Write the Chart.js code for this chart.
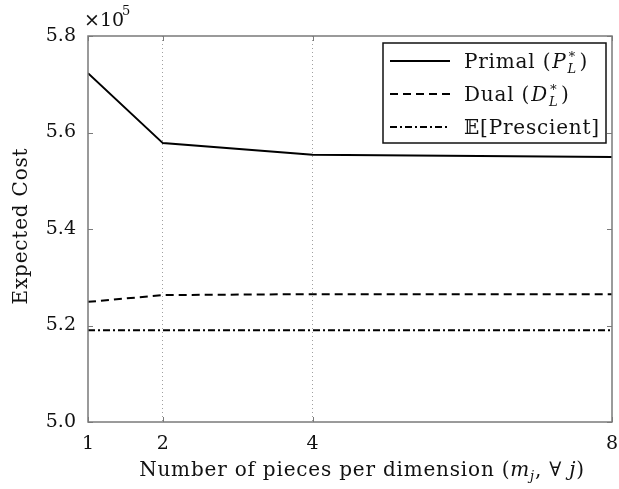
<!DOCTYPE html>
<html>
<head>
<meta charset="utf-8">
<script src="https://cdn.jsdelivr.net/npm/chart.js@4.4.1/dist/chart.umd.min.js"></script>
<style>
  html, body { margin: 0; padding: 0; background: #fff; }
  #wrap { width: 619px; height: 489px; }
</style>
</head>
<body>
<div id="wrap"><canvas id="costChart" width="619" height="489"></canvas></div>
<script>
// data (expected cost, x10^5 shown on axis)
const pieces = [1, 2, 4, 8];
const primal = [572300, 557800, 555400, 554900];
const dual = [524900, 526300, 526500, 526500];
const prescient = [519000, 519000, 519000, 519000];
const yTicks = [500000, 520000, 540000, 560000, 580000];

const FONT = '"DejaVu Serif", "Liberation Serif", serif';

// frame, inner ticks, legend box, axis titles
const decorations = {
  id: 'decorations',
  afterDraw(chart) {
    const c = chart.ctx;
    const a = chart.chartArea;
    const x = chart.scales.x, y = chart.scales.y;
    c.save();
    c.strokeStyle = '#7a7a7a';
    c.lineWidth = 1.5;
    c.strokeRect(a.left, a.top, a.right - a.left, a.bottom - a.top);
    // small inward ticks
    c.lineWidth = 1;
    yTicks.forEach(v => {
      const py = Math.round(y.getPixelForValue(v)) + 0.5;
      c.beginPath();
      c.moveTo(a.left, py); c.lineTo(a.left + 5, py);
      c.moveTo(a.right, py); c.lineTo(a.right - 5, py);
      c.stroke();
    });
    pieces.forEach(v => {
      const px = Math.round(x.getPixelForValue(v)) + 0.5;
      c.beginPath();
      c.moveTo(px, a.bottom); c.lineTo(px, a.bottom - 5);
      c.moveTo(px, a.top); c.lineTo(px, a.top + 5);
      c.stroke();
    });

    c.fillStyle = '#111';
    c.textBaseline = 'alphabetic';
    // x10^5
    c.font = '19px ' + FONT;
    c.textAlign = 'left';
    c.fillText('×10', 84, 26);
    c.font = '13px ' + FONT;
    c.fillText('5', 122, 15);

    c.letterSpacing = '0.8px';
    // y title
    c.save();
    c.translate(27, 226);
    c.rotate(-Math.PI / 2);
    c.font = '20px ' + FONT;
    c.textAlign = 'center';
    c.fillText('Expected Cost', 0, 0);
    c.restore();

    // x title with math bits
    const parts = [
      ['Number of pieces per dimension (', '20px ' + FONT, 0],
      ['m', 'italic 20px ' + FONT, 0],
      ['j', 'italic 13px ' + FONT, 4],
      [', ∀ ', '20px ' + FONT, 0],
      ['j', 'italic 20px ' + FONT, 0],
      [')', '20px ' + FONT, 0]
    ];
    let w = 0;
    parts.forEach(p => { c.font = p[1]; w += c.measureText(p[0]).width; });
    let tx = 362 - w / 2;
    parts.forEach(p => {
      c.font = p[1];
      c.fillText(p[0], tx, 476 + p[2]);
      tx += c.measureText(p[0]).width;
    });

    // legend
    c.fillStyle = '#fff';
    c.fillRect(383, 43, 223, 100);
    c.strokeStyle = '#111';
    c.lineWidth = 1.5;
    c.strokeRect(383, 43, 223, 100);
    const rows = [
      { dash: [], main: 'Primal (', sym: 'P' },
      { dash: [8, 5], main: 'Dual (', sym: 'D' },
      { dash: [7, 3, 2, 3], main: '𝔼[Prescient]', sym: null }
    ];
    rows.forEach((r, i) => {
      const cy = 61 + i * 33;
      c.strokeStyle = '#000';
      c.lineWidth = 2;
      c.setLineDash(r.dash);
      c.beginPath();
      c.moveTo(390, cy); c.lineTo(450, cy);
      c.stroke();
      c.setLineDash([]);
      c.fillStyle = '#111';
      let lx = 464;
      const base = cy + 7;
      c.font = '20px ' + FONT;
      c.fillText(r.main, lx, base);
      lx += c.measureText(r.main).width + 1;
      if (r.sym) {
        c.font = 'italic 20px ' + FONT;
        c.fillText(r.sym, lx, base);
        lx += c.measureText(r.sym).width + 1;
        c.font = '13px ' + FONT;
        c.fillText('∗', lx, base - 10);
        c.font = 'italic 13px ' + FONT;
        c.fillText('L', lx, base + 5);
        lx += 12;
        c.font = '20px ' + FONT;
        c.fillText(')', lx, base);
      }
    });
    c.restore();
  }
};

function series(label, values, dash) {
  return {
    label: label,
    data: pieces.map((p, i) => ({ x: p, y: values[i] })),
    borderColor: '#000',
    borderWidth: 2,
    borderDash: dash,
    pointRadius: 0,
    fill: false,
    tension: 0
  };
}

const ctx = document.getElementById('costChart');
const costChart = new Chart(ctx, {
  type: 'line',
  data: {
    datasets: [
      series('Primal', primal, []),
      series('Dual', dual, [8, 5]),
      series('E[Prescient]', prescient, [7, 3, 2, 3])
    ]
  },
  options: {
    responsive: false,
    animation: false,
    layout: { padding: { top: 36, right: 7, left: 0, bottom: 0 } },
    plugins: { legend: { display: false }, tooltip: { enabled: false } },
    scales: {
      x: {
        type: 'linear',
        min: 1,
        max: 8,
        afterBuildTicks: s => { s.ticks = pieces.map(v => ({ value: v })); },
        afterFit: s => { s.height = 67; s.paddingRight = 0; s.paddingLeft = 0; },
        border: { display: false, dash: [1, 3] },
        grid: {
          drawTicks: false,
          color: c => (c.tick && (c.tick.value === 2 || c.tick.value === 4)) ? '#a0a0a0' : 'rgba(0,0,0,0)',
          lineWidth: 1
        },
        ticks: {
          color: '#111',
          padding: 11,
          maxRotation: 0,
          font: { family: FONT, size: 19 },
          callback: v => String(v)
        }
      },
      y: {
        min: 500000,
        max: 580000,
        afterBuildTicks: s => { s.ticks = yTicks.map(v => ({ value: v })); },
        afterFit: s => { s.width = 88; s.paddingTop = 0; s.paddingBottom = 0; },
        border: { display: false },
        grid: { display: false, drawTicks: false },
        ticks: {
          color: '#111',
          padding: 12,
          font: { family: FONT, size: 19 },
          callback: v => (v / 1e5).toFixed(1)
        }
      }
    }
  },
  plugins: [decorations]
});
</script>
</body>
</html>
